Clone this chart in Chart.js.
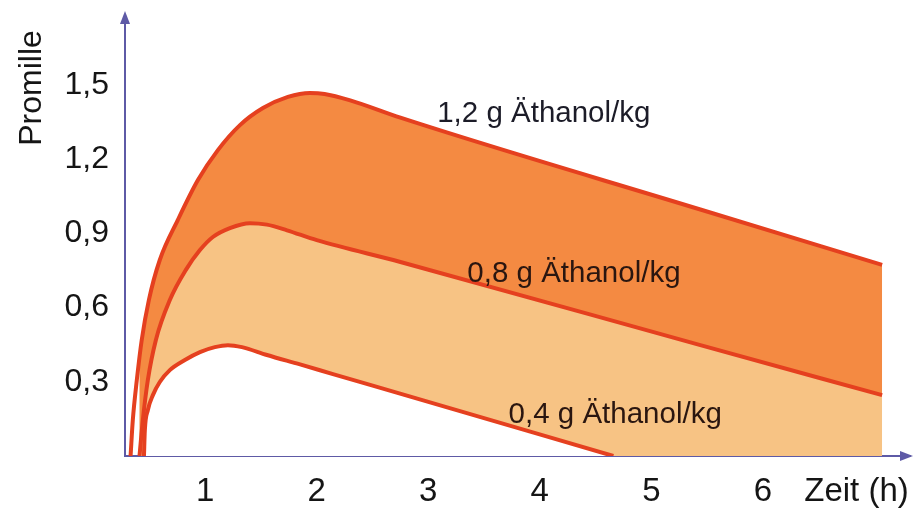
<!DOCTYPE html>
<html>
<head>
<meta charset="utf-8">
<script src="https://cdn.jsdelivr.net/npm/chart.js@4"></script>
<style>
body{margin:0;background:#fff}
canvas{display:block}
</style>
</head>
<body>
<canvas id="chart" width="915" height="521"></canvas>
<script>
// tick labels
const xTicks = [1, 2, 3, 4, 5, 6, 6.84]
const xTickLabels = ['1', '2', '3', '4', '5', '6', 'Zeit (h)']
const yTicks = [0.3, 0.6, 0.9, 1.2, 1.5]
const yTickLabels = ['0,3', '0,6', '0,9', '1,2', '1,5']
const yTitle = 'Promille'

const seriesNames = ['1,2 g Äthanol/kg', '0,8 g Äthanol/kg', '0,4 g Äthanol/kg']

// 1,2 g/kg
const hours12 = [0.33, 0.35, 0.386, 0.43, 0.494, 0.592, 0.754, 0.934, 1.113, 1.311, 1.517, 1.741, 1.939, 2.07, 2.30, 2.75, 5.44, 7.07]
const promille12 = [0, 0.145, 0.307, 0.469, 0.630, 0.792, 0.954, 1.115, 1.236, 1.337, 1.406, 1.451, 1.467, 1.463, 1.437, 1.367, 0.996, 0.772]

// 0,8 g/kg
const hours08 = [0.41, 0.44, 0.485, 0.557, 0.682, 0.826, 0.952, 1.068, 1.221, 1.40, 1.553, 1.733, 2.00, 2.75, 5.44, 7.07]
const promille08 = [0, 0.145, 0.307, 0.469, 0.630, 0.752, 0.832, 0.885, 0.921, 0.941, 0.935, 0.912, 0.872, 0.784, 0.448, 0.246]

// 0,4 g/kg
const hours04 = [0.45, 0.458, 0.485, 0.53, 0.592, 0.682, 0.817, 0.952, 1.086, 1.203, 1.329, 1.553, 1.85, 2.145, 2.747, 4.66]
const promille04 = [0, 0.105, 0.186, 0.246, 0.299, 0.347, 0.388, 0.420, 0.440, 0.448, 0.440, 0.408, 0.370, 0.331, 0.252, 0]

const lineRed = '#e5401f'
const axisBlue = '#5e5aa6'

function pts(xs, ys){
  return xs.map((x, i) => ({x: x, y: ys[i]}))
}

function noPad(s){
  s.paddingTop = 0
  s.paddingBottom = 0
  s.paddingLeft = 0
  s.paddingRight = 0
}

// arrows, y title and curve labels
const decor = {
  id: 'decor',
  afterDraw(chart){
    const ctx = chart.ctx
    const a = chart.chartArea
    ctx.save()
    ctx.fillStyle = axisBlue
    ctx.beginPath()
    ctx.moveTo(a.left, a.top - 4)
    ctx.lineTo(a.left - 5, a.top + 9)
    ctx.lineTo(a.left + 5, a.top + 9)
    ctx.fill()
    ctx.beginPath()
    ctx.moveTo(a.right + 3, a.bottom)
    ctx.lineTo(a.right - 10, a.bottom - 5)
    ctx.lineTo(a.right - 10, a.bottom + 5)
    ctx.fill()

    ctx.fillStyle = '#151515'
    ctx.font = '32px "Liberation Sans", Arial, sans-serif'
    ctx.translate(32, 88)
    ctx.rotate(-Math.PI / 2)
    ctx.textAlign = 'center'
    ctx.textBaseline = 'middle'
    ctx.fillText(yTitle, 0, 0)
    ctx.restore()

    const xs = chart.scales.x, ys = chart.scales.y
    const spots = [[3.08, 1.35, '#1c1c28'], [3.35, 0.704, '#2a1610'], [3.72, 0.134, '#2a1610']]
    ctx.save()
    ctx.font = '29.5px "Liberation Sans", Arial, sans-serif'
    ctx.textAlign = 'left'
    ctx.textBaseline = 'alphabetic'
    spots.forEach((s, i) => {
      ctx.fillStyle = s[2]
      ctx.fillText(seriesNames[i], xs.getPixelForValue(s[0]), ys.getPixelForValue(s[1]))
    })
    ctx.restore()
  }
}

new Chart(document.getElementById('chart'), {
  type: 'line',
  data: {
    datasets: [
      {
        label: seriesNames[2],
        data: pts(hours04, promille04),
        borderColor: lineRed,
        backgroundColor: '#ffffff',
        fill: 'origin'
      },
      {
        label: seriesNames[1],
        data: pts(hours08, promille08),
        borderColor: lineRed,
        backgroundColor: '#f7c384',
        fill: 'origin'
      },
      {
        label: seriesNames[0],
        data: pts(hours12, promille12),
        borderColor: lineRed,
        backgroundColor: '#f48a42',
        fill: 1
      }
    ]
  },
  options: {
    responsive: false,
    animation: false,
    layout: {padding: {top: 15, right: 5, left: 0, bottom: 0}},
    elements: {
      line: {borderWidth: 4, cubicInterpolationMode: 'monotone'},
      point: {radius: 0, hoverRadius: 0}
    },
    plugins: {
      legend: {display: false},
      tooltip: {enabled: false},
      filler: {drawTime: 'beforeDatasetsDraw'}
    },
    scales: {
      x: {
        type: 'linear',
        min: 0.28,
        max: 7.32,
        afterFit(s){ s.height = 65; noPad(s) },
        afterBuildTicks(s){ s.ticks = xTicks.map(v => ({value: v})) },
        grid: {display: false, drawTicks: false},
        border: {display: true, color: axisBlue, width: 2},
        ticks: {
          padding: 16,
          color: '#151515',
          font: {family: '"Liberation Sans", Arial, sans-serif', size: 33},
          callback: (v, i) => xTickLabels[i]
        }
      },
      y: {
        min: 0,
        max: 1.782,
        afterFit(s){ s.width = 125; noPad(s) },
        afterBuildTicks(s){ s.ticks = yTicks.map(v => ({value: v})) },
        grid: {display: false, drawTicks: false},
        border: {display: true, color: axisBlue, width: 2},
        ticks: {
          padding: 16,
          color: '#151515',
          font: {family: '"Liberation Sans", Arial, sans-serif', size: 32},
          callback: (v, i) => yTickLabels[i]
        }
      }
    }
  },
  plugins: [decor]
})
</script>
</body>
</html>
